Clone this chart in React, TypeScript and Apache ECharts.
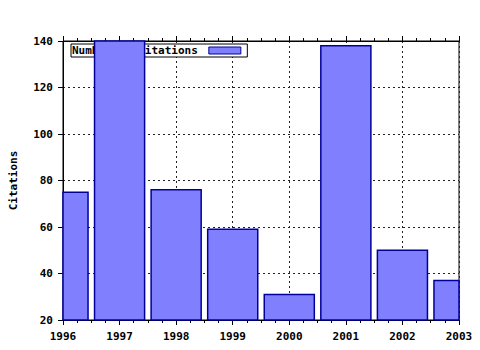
import React, { useEffect, useRef } from "react";
import * as echarts from "echarts";

const years = [1996, 1997, 1998, 1999, 2000, 2001, 2002, 2003];
const citations = [75, 140, 76, 59, 31, 138, 50, 37];
const seriesName = "Number of Citations";
const yAxisTitle = "Citations";

const FONT = "'DejaVu Sans Mono', monospace";
const BAR_FILL = "#8080ff";
const BAR_EDGE = "#000099";

export default function App() {
  const ref = useRef<HTMLDivElement>(null);
  useEffect(() => {
    if (!ref.current) return;
    const chart = echarts.init(ref.current, undefined, { renderer: "svg" });
    const txt = { fontFamily: FONT, fontWeight: "bold" as const, fontSize: 11, color: "#000" };
    const yMin = 20;
    chart.setOption({
      animation: false,
      backgroundColor: "#fff",
      grid: {
        left: 63,
        right: 21,
        top: 41,
        bottom: 30,
        show: true,
        borderColor: "#000",
        borderWidth: 1,
        backgroundColor: "transparent",
      },
      legend: {
        show: true,
        left: 71,
        top: 44,
        z: 1,
        orient: "horizontal",
        align: "right",
        itemWidth: 32,
        itemHeight: 7,
        itemGap: 8,
        padding: [1, 6, 1, 1],
        borderColor: "#000",
        borderWidth: 1,
        borderRadius: 0,
        backgroundColor: "#fff",
        textStyle: { ...txt, padding: [0, 6, 0, 0] },
        data: [{ name: seriesName, icon: "rect", itemStyle: { color: BAR_FILL, borderColor: BAR_EDGE, borderWidth: 1 } }],
      },
      xAxis: [
        {
          type: "value",
          min: 1996,
          max: 2003,
          interval: 1,
          position: "bottom",
          axisLine: { show: true, lineStyle: { color: "#000", width: 1 } },
          axisTick: { show: true, inside: false, length: 5, lineStyle: { color: "#000" } },
          minorTick: { show: true, splitNumber: 4, length: 3, lineStyle: { color: "#000" } },
          axisLabel: { ...txt, margin: 11, formatter: (v: number) => String(v) },
          splitLine: { show: true, lineStyle: { color: "#222", type: [2, 3], width: 1 } },
        },
        {
          type: "value",
          min: 1996,
          max: 2003,
          interval: 1,
          position: "top",
          axisLine: { show: true, lineStyle: { color: "#000", width: 1 } },
          axisTick: { show: true, inside: false, length: 5, lineStyle: { color: "#000" } },
          minorTick: { show: true, splitNumber: 4, length: 3, lineStyle: { color: "#000" } },
          axisLabel: { show: false },
          splitLine: { show: false },
        },
      ],
      yAxis: {
        type: "value",
        min: yMin,
        max: 140,
        interval: 20,
        name: yAxisTitle,
        nameLocation: "middle",
        nameGap: 44,
        nameRotate: 90,
        nameTextStyle: { ...txt },
        axisLine: { show: true, lineStyle: { color: "#000", width: 1 } },
        axisTick: { show: true, inside: false, length: 5, lineStyle: { color: "#000" } },
        axisLabel: { ...txt, margin: 10 },
        splitLine: { show: true, lineStyle: { color: "#222", type: [2, 3], width: 1 } },
      },
      series: [
        {
          name: seriesName,
          type: "custom",
          z: 2,
          xAxisIndex: 0,
          yAxisIndex: 0,
          encode: { x: 0, y: 1 },
          itemStyle: { color: BAR_FILL, borderColor: BAR_EDGE, borderWidth: 1.5 },
          data: years.map((y, i) => [y, citations[i]]),
          renderItem: (params: any, api: any) => {
            const x = api.value(0);
            const v = api.value(1);
            const top = api.coord([x, v]);
            const base = api.coord([x, yMin]);
            const unit = api.size([1, 0])[0];
            const w = unit * 0.885;
            const rect = { x: top[0] - w / 2, y: top[1], width: w, height: base[1] - top[1] };
            const cs = params.coordSys;
            const clipped = echarts.graphic.clipRectByRect(rect, {
              x: cs.x,
              y: cs.y,
              width: cs.width,
              height: cs.height,
            });
            if (!clipped) return null;
            return {
              type: "rect",
              shape: clipped,
              style: { fill: BAR_FILL, stroke: BAR_EDGE, lineWidth: 1.5 },
            };
          },
        },
      ],
    });
    return () => chart.dispose();
  }, []);
  return <div ref={ref} style={{ width: 480, height: 350, position: "absolute", left: 0, top: 0 }} />;
}
